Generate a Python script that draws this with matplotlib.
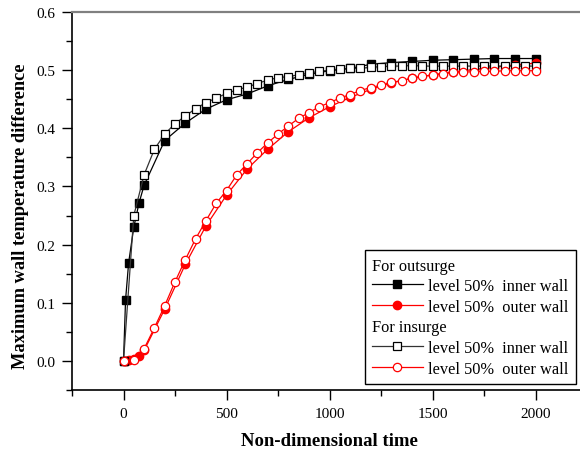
import matplotlib
matplotlib.use("Agg")
import matplotlib.pyplot as plt
from matplotlib.lines import Line2D
from matplotlib.ticker import MultipleLocator

plt.rcParams.update({
    "font.family": ["Liberation Serif", "DejaVu Serif"],
    "font.size": 10,
    "axes.linewidth": 1.2,
})

# ==============================
# Data
# ==============================

# outsurge, inner wall (filled black squares)
t_out_inner = [0, 10, 25, 50, 75, 100, 200, 300, 400, 500, 600, 700, 800, 900,
               1000, 1100, 1200, 1300, 1400, 1500, 1600, 1700, 1800, 1900, 2000]
v_out_inner = [0.0, 0.105, 0.169, 0.23, 0.271, 0.302, 0.379, 0.409, 0.433, 0.449,
               0.459, 0.473, 0.484, 0.493, 0.499, 0.503, 0.510, 0.513, 0.515, 0.517,
               0.518, 0.519, 0.520, 0.520, 0.520]

# outsurge, outer wall (filled red circles)
t_out_outer = [0, 10, 25, 50, 75, 100, 200, 300, 400, 500, 600, 700, 800, 900,
               1000, 1100, 1200, 1300, 1400, 1500, 1600, 1700, 1800, 1900, 2000]
v_out_outer = [0.0, 0.0, 0.001, 0.003, 0.009, 0.018, 0.089, 0.166, 0.232, 0.285,
               0.330, 0.364, 0.394, 0.418, 0.437, 0.453, 0.467, 0.478, 0.486, 0.492,
               0.497, 0.501, 0.505, 0.509, 0.512]

# insurge, every 50 steps
t_in = list(range(0, 2001, 50))
v_in_inner = [0.0, 0.25, 0.32, 0.364, 0.39, 0.408, 0.421, 0.434, 0.444, 0.452,
              0.46, 0.466, 0.471, 0.477, 0.483, 0.487, 0.489, 0.492, 0.495, 0.498,
              0.500, 0.502, 0.503, 0.503, 0.505, 0.506, 0.507, 0.507, 0.508, 0.507,
              0.507, 0.507, 0.507, 0.507, 0.507, 0.507, 0.507, 0.507, 0.507, 0.507,
              0.507]
v_in_outer = [0.0, 0.002, 0.021, 0.057, 0.095, 0.136, 0.174, 0.21, 0.241, 0.271,
              0.293, 0.32, 0.339, 0.358, 0.375, 0.39, 0.404, 0.417, 0.427, 0.437,
              0.444, 0.452, 0.458, 0.465, 0.47, 0.474, 0.479, 0.482, 0.486, 0.49,
              0.491, 0.494, 0.496, 0.497, 0.497, 0.498, 0.498, 0.499, 0.499, 0.499,
              0.499]

labels = ["For outsurge", "level 50%  inner wall", "level 50%  outer wall",
          "For insurge", "level 50%  inner wall", "level 50%  outer wall"]
headers = ["For outsurge", "For insurge"]

# ==============================
# Plot
# ==============================

fig = plt.figure(figsize=(5.8, 4.56), dpi=100)
ax = fig.add_axes([72 / 580, 65 / 456, 515 / 580, 378 / 456])

ms = 6
l1, = ax.plot(t_out_inner, v_out_inner, color="black", lw=0.9,
              marker="s", ms=ms, mfc="black", mec="black")
l2, = ax.plot(t_out_outer, v_out_outer, color="red", lw=0.9,
              marker="o", ms=ms, mfc="red", mec="red")
l3, = ax.plot(t_in, v_in_inner, color="#333333", lw=0.9,
              marker="s", ms=ms, mfc="white", mec="black", mew=0.9)
l4, = ax.plot(t_in, v_in_outer, color="red", lw=0.9,
              marker="o", ms=ms, mfc="white", mec="red", mew=0.9)

ax.set_xlim(-250, 2250)
ax.set_ylim(-0.05, 0.6)
ax.xaxis.set_minor_locator(MultipleLocator(250))
ax.yaxis.set_minor_locator(MultipleLocator(0.05))
ax.set_yticks([0.0, 0.1, 0.2, 0.3, 0.4, 0.5, 0.6])
ax.set_yticklabels(["0.0", "0.1", "0.2", "0.3", "0.4", "0.5", "0.6"])
ax.set_xticks([0, 500, 1000, 1500, 2000])

ax.tick_params(which="major", direction="out", length=7, width=1, labelsize=11, pad=5)
ax.tick_params(which="minor", direction="out", length=4, width=1)
ax.tick_params(axis="x", which="both", top=False)
ax.tick_params(axis="y", which="both", right=False)

ax.spines["top"].set_color("#808080")
ax.spines["top"].set_linewidth(1.6)

ax.set_xlabel("Non-dimensional time", fontsize=13.5, fontweight="bold", labelpad=9)
ax.set_ylabel("Maximum wall temperature difference", fontsize=13.2,
              fontweight="bold")
ax.yaxis.set_label_coords(-0.083, 0.463)

blank = Line2D([], [], linestyle="none", marker="none")
handles = [blank, l1, l2, blank, l3, l4]
leg = ax.legend(handles, labels, loc="lower right", bbox_to_anchor=(0.979, 0.016),
                borderaxespad=0, fontsize=11.8, numpoints=1, handlelength=3.1,
                handletextpad=0.35, labelspacing=0.28, borderpad=0.45,
                fancybox=False, edgecolor="black", framealpha=1)
leg.get_frame().set_linewidth(1.0)

# pull header rows flush with the handle column
for col in leg._legend_handle_box.get_children():
    for row in col.get_children():
        hbox, tbox = row.get_children()
        if tbox.get_text() in headers:
            hbox.set_width(0)
            row.sep = 0

fig.savefig("out.png", dpi=100)
